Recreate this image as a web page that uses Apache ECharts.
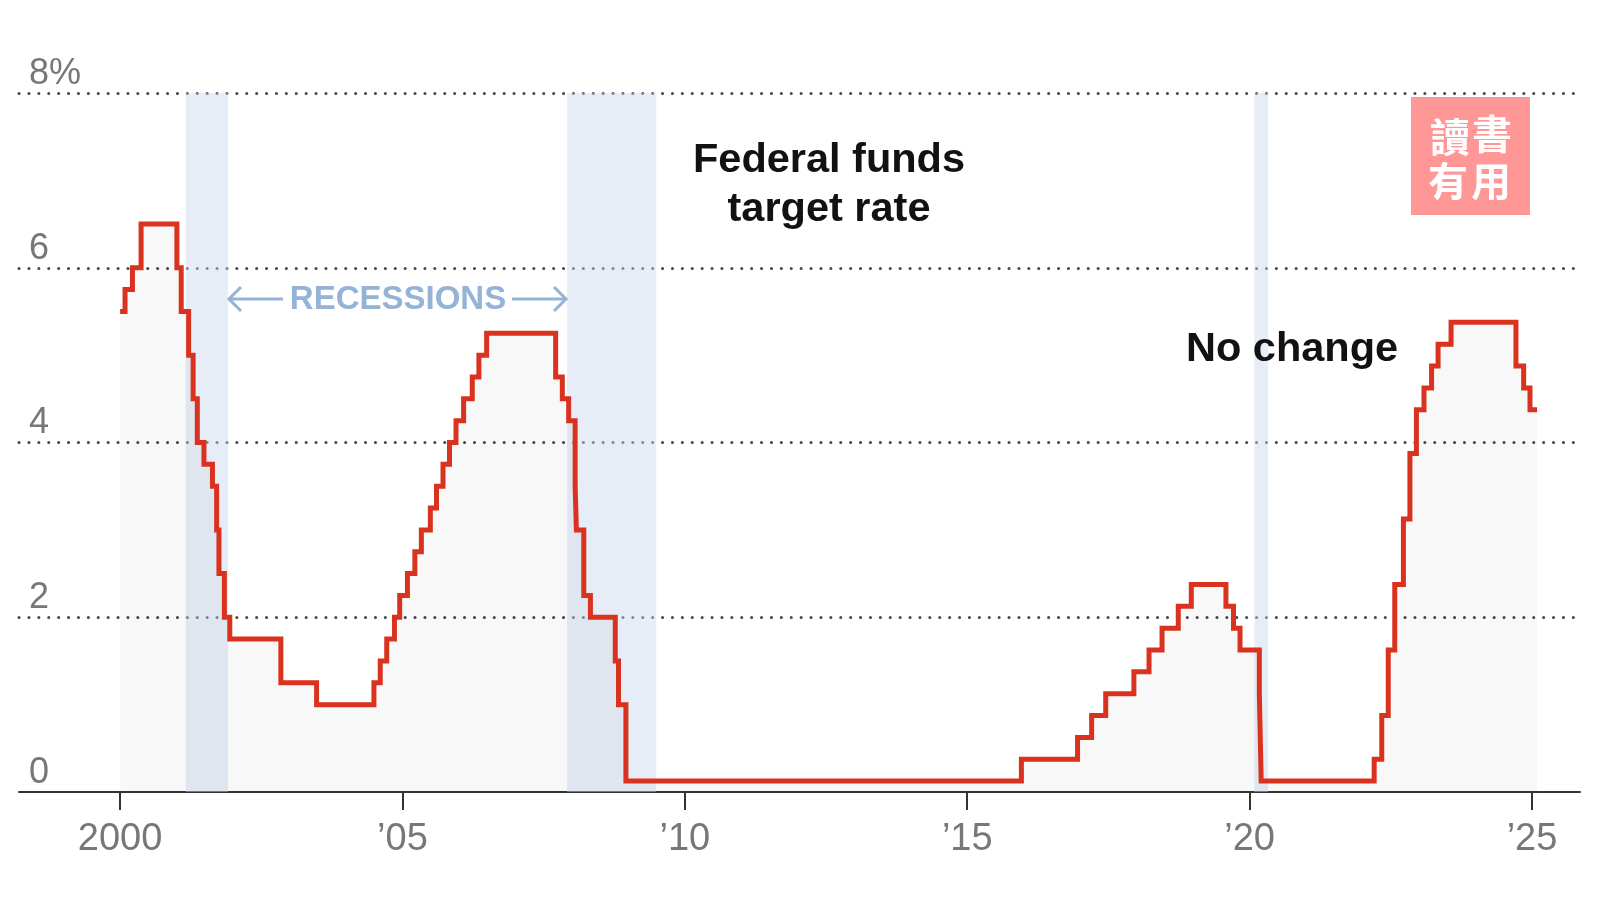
<!DOCTYPE html>
<html>
<head>
<meta charset="utf-8">
<script src="https://cdn.jsdelivr.net/npm/echarts@6/dist/echarts.min.js"></script>
<style>
html,body{margin:0;padding:0;background:#fff;}
#c{width:1600px;height:901px;}
</style>
</head>
<body>
<div id="c"></div>
<script>
// ---- Data ----
const changeDates = [
  '2000-01-01','2000-02-02','2000-03-21','2000-05-16',
  '2001-01-03','2001-01-31','2001-03-20','2001-04-18','2001-05-15','2001-06-27',
  '2001-08-21','2001-09-17','2001-10-02','2001-11-06','2001-12-11',
  '2002-11-06','2003-06-25',
  '2004-06-30','2004-08-10','2004-09-21','2004-11-10','2004-12-14',
  '2005-02-02','2005-03-22','2005-05-03','2005-06-30','2005-08-09','2005-09-20','2005-11-01','2005-12-13',
  '2006-01-31','2006-03-28','2006-05-10','2006-06-29',
  '2007-09-18','2007-10-31','2007-12-11',
  '2008-01-22','2008-01-30','2008-03-18','2008-04-30','2008-10-08','2008-10-29','2008-12-16',
  '2015-12-17','2016-12-15','2017-03-16','2017-06-15','2017-12-14',
  '2018-03-22','2018-06-14','2018-09-27','2018-12-20',
  '2019-08-01','2019-09-19','2019-10-31',
  '2020-03-04','2020-03-16',
  '2022-03-17','2022-05-05','2022-06-16','2022-07-28','2022-09-22','2022-11-03','2022-12-15',
  '2023-02-02','2023-03-23','2023-05-04','2023-07-27',
  '2024-09-19','2024-11-08','2024-12-19',
  '2025-02-03'
];
const rateValues = [
  5.5, 5.75, 6.0, 6.5,
  6.0, 5.5, 5.0, 4.5, 4.0, 3.75,
  3.5, 3.0, 2.5, 2.0, 1.75,
  1.25, 1.0,
  1.25, 1.5, 1.75, 2.0, 2.25,
  2.5, 2.75, 3.0, 3.25, 3.5, 3.75, 4.0, 4.25,
  4.5, 4.75, 5.0, 5.25,
  4.75, 4.5, 4.25,
  3.5, 3.0, 2.25, 2.0, 1.5, 1.0, 0.125,
  0.375, 0.625, 0.875, 1.125, 1.375,
  1.625, 1.875, 2.125, 2.375,
  2.125, 1.875, 1.625,
  1.125, 0.125,
  0.375, 0.875, 1.625, 2.375, 3.125, 3.875, 4.375,
  4.625, 4.875, 5.125, 5.375,
  4.875, 4.625, 4.375,
  4.375
];
const recessionStarts = ['2001-03-01','2007-12-01','2020-02-01'];
const recessionEnds   = ['2001-11-30','2009-06-30','2020-04-30'];
const xTickValues = [2000, 2005, 2010, 2015, 2020, 2025];
const xTickLabels = ['2000', '\u201905', '\u201910', '\u201915', '\u201920', '\u201925'];
const yTickValues = [0, 2, 4, 6, 8];
const yTickLabels = ['0', '2', '4', '6', '8%'];

// ---- Helpers ----
function toYear(s) {
  const d = new Date(s + 'T00:00:00Z');
  const y = d.getUTCFullYear();
  const a = Date.UTC(y, 0, 1), b = Date.UTC(y + 1, 0, 1);
  return y + (d.getTime() - a) / (b - a);
}
const rateData = changeDates.map((d, i) => [toYear(d), rateValues[i]]);
const recessionAreas = recessionStarts.map((s, i) => [{ xAxis: toYear(s) }, { xAxis: toYear(recessionEnds[i]) }]);

const FONT = '"Liberation Sans", Arial, sans-serif';
const BLUE = '#95b2d7';

function txt(t, x, y, font, fill, align) {
  return { type: 'text', x: x, y: y, z: 10, style: { text: t, fill: fill, font: font, textAlign: align, align: align, textVerticalAlign: 'middle', verticalAlign: 'middle' } };
}

const chart = echarts.init(document.getElementById('c'), null, { renderer: 'canvas' });
chart.setOption({
  animation: false,
  backgroundColor: '#ffffff',
  grid: { left: 19, right: 20, top: 93, bottom: 109, containLabel: false },
  xAxis: {
    type: 'value',
    min: 1998.21,
    max: 2025.85,
    splitLine: { show: false },
    axisLine: { show: true, lineStyle: { color: '#333', width: 2 } },
    axisTick: { show: true, customValues: xTickValues, length: 18, lineStyle: { color: '#333', width: 2 } },
    axisLabel: {
      customValues: xTickValues,
      formatter: v => xTickLabels[xTickValues.indexOf(Math.round(v))] || '',
      color: '#777', fontSize: 38, fontFamily: FONT, margin: 29
    }
  },
  yAxis: {
    type: 'value',
    min: 0, max: 8, interval: 2,
    axisLine: { show: false },
    axisTick: { show: false },
    axisLabel: {
      inside: true,
      formatter: v => yTickLabels[yTickValues.indexOf(v)] || '',
      color: '#777', fontSize: 36, fontFamily: FONT,
      margin: 10, verticalAlign: 'bottom', padding: [0, 0, 1, 0]
    },
    splitLine: {
      show: true, showMinLine: false,
      lineStyle: { color: '#4a4a4a', width: 3, type: [0.1, 9.8], cap: 'round' }
    }
  },
  series: [
    {
      type: 'line', data: [], z: 1, silent: true,
      markArea: {
        silent: true,
        itemStyle: { color: 'rgba(200,214,234,0.45)' },
        data: recessionAreas
      }
    },
    {
      type: 'line',
      step: 'end',
      data: rateData,
      showSymbol: false,
      z: 3,
      lineStyle: { color: '#d9321f', width: 5, join: 'miter' },
      areaStyle: { color: 'rgba(0,0,0,0.04)' }
    }
  ],
  graphic: [
    txt('Federal funds', 829, 161, 'bold 41.5px ' + FONT, '#121212', 'center'),
    txt('target rate', 829, 210, 'bold 41.5px ' + FONT, '#121212', 'center'),
    txt('No change', 1186, 350, 'bold 41.5px ' + FONT, '#121212', 'left'),
    txt('RECESSIONS', 398, 300, 'bold 33px ' + FONT, BLUE, 'center'),
    { type: 'polyline', z: 10, shape: { points: [[283, 299], [229, 299]] }, style: { stroke: BLUE, lineWidth: 3, fill: null } },
    { type: 'polyline', z: 10, shape: { points: [[241, 287], [229, 299], [241, 311]] }, style: { stroke: BLUE, lineWidth: 3, fill: null } },
    { type: 'polyline', z: 10, shape: { points: [[512, 299], [566, 299]] }, style: { stroke: BLUE, lineWidth: 3, fill: null } },
    { type: 'polyline', z: 10, shape: { points: [[554, 287], [566, 299], [554, 311]] }, style: { stroke: BLUE, lineWidth: 3, fill: null } },
    { type: 'rect', z: 10, shape: { x: 1411, y: 97, width: 119, height: 118 }, style: { fill: '#ff9797' } },
    txt('讀', 1450, 137, 'bold 40px "Noto Sans CJK TC"', '#ffffff', 'center'),
    txt('書', 1492, 134, 'bold 40px "Noto Sans CJK TC"', '#ffffff', 'center'),
    txt('有', 1448, 181, 'bold 40px "Noto Sans CJK TC"', '#ffffff', 'center'),
    txt('用', 1491, 181, 'bold 40px "Noto Sans CJK TC"', '#ffffff', 'center')
  ]
});
</script>
</body>
</html>
